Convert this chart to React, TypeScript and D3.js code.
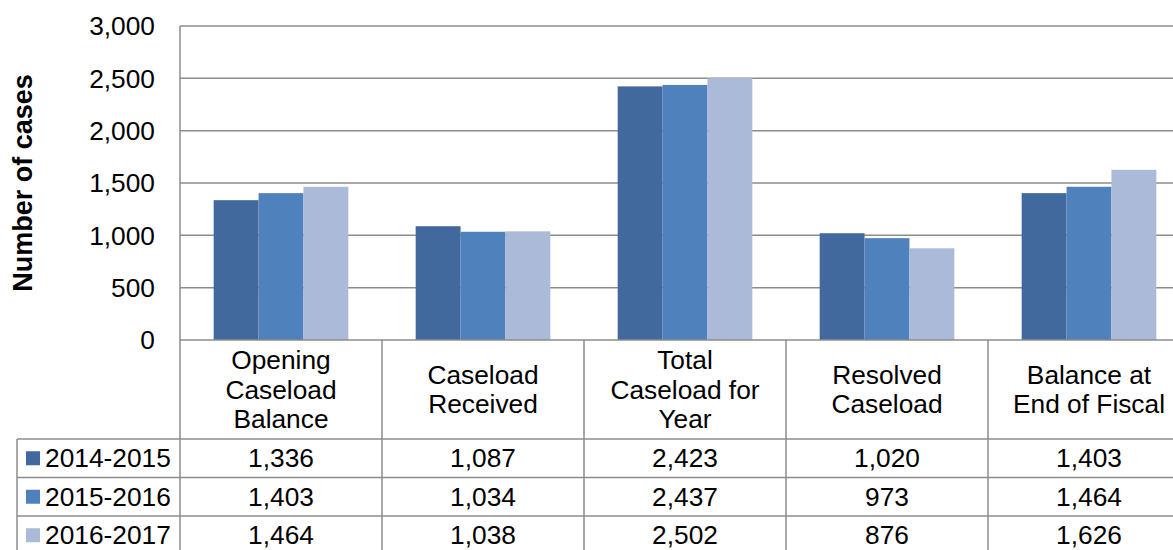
import React from 'react';
import * as d3 from 'd3';

// categories and series
const categories = [
  ['Opening', 'Caseload', 'Balance'],
  ['Caseload', 'Received'],
  ['Total', 'Caseload for', 'Year'],
  ['Resolved', 'Caseload'],
  ['Balance at', 'End of Fiscal'],
];
const seriesNames = ['2014-2015', '2015-2016', '2016-2017'];
const values2014 = [1336, 1087, 2423, 1020, 1403];
const values2015 = [1403, 1034, 2437, 973, 1464];
const values2016 = [1464, 1038, 2502, 876, 1626];
const yTicks = [0, 500, 1000, 1500, 2000, 2500, 3000];
const colors = ['#41699d', '#4f81bd', '#aabad8'];

const W = 1173;
const H = 550;
const FONT = '"Liberation Sans", Arial, sans-serif';
const FS = 26.3;

export default function App() {
  const series = [values2014, values2015, values2016];
  const fmt = d3.format(',');

  // plot area
  const left = 180;
  const colW = 202;
  const top = 26;
  const base = 340;
  const headerBottom = 439;
  const rowH = 38.5;
  const tableLeft = 17;

  const x0 = d3.scaleBand<number>()
    .domain(categories.map((_, i) => i))
    .range([left, left + colW * categories.length]);
  const x1 = d3.scaleBand<number>()
    .domain(seriesNames.map((_, i) => i))
    .range([0, x0.bandwidth()])
    .paddingInner(0)
    .paddingOuter(0.75);
  const y = d3.scaleLinear().domain([0, 3000]).range([base, top]);

  const grid = '#8c8c8c';

  return (
    <svg width={W} height={H} style={{ position: 'absolute', left: 0, top: 0 }} fontFamily={FONT}>
      <rect width={W} height={H} fill="#fff" />

      {/* gridlines */}
      {yTicks.filter(t => t > 0).map(t => (
        <line key={t} x1={left} x2={W} y1={y(t)} y2={y(t)} stroke={grid} strokeWidth={1.5} />
      ))}

      {/* bars */}
      {series.map((vals, s) =>
        vals.map((v, c) => (
          <rect key={`${s}-${c}`}
            x={(x0(c) as number) + (x1(s) as number)}
            y={y(v)}
            width={x1.bandwidth()}
            height={base - y(v)}
            fill={colors[s]} />
        ))
      )}

      {/* y tick labels */}
      {yTicks.map(t => (
        <text key={t} x={155} y={y(t)} dy="0.35em" textAnchor="end" fontSize={FS} fill="#000">
          {fmt(t)}
        </text>
      ))}

      {/* axis title */}
      <text transform={`translate(32,${(top + base) / 2}) rotate(-90)`} textAnchor="middle"
        fontSize={27} fontWeight="bold" fill="#000">Number of cases</text>

      {/* data table lines */}
      <line x1={left} x2={left} y1={top} y2={H} stroke={grid} strokeWidth={1.5} />
      <line x1={left} x2={W} y1={base} y2={base} stroke={grid} strokeWidth={1.5} />
      {seriesNames.map((_, r) => (
        <line key={r} x1={tableLeft} x2={W} y1={headerBottom + r * rowH} y2={headerBottom + r * rowH}
          stroke={grid} strokeWidth={1.5} />
      ))}
      <line x1={tableLeft} x2={tableLeft} y1={headerBottom} y2={H} stroke={grid} strokeWidth={1.5} />
      {categories.map((_, c) => c > 0 && (
        <line key={c} x1={x0(c)} x2={x0(c)} y1={base} y2={H} stroke={grid} strokeWidth={1.5} />
      ))}

      {/* category headers */}
      {categories.map((lines, c) => {
        const cx = (x0(c) as number) + x0.bandwidth() / 2;
        const lh = 29.5;
        const cy = (base + headerBottom) / 2;
        return (
          <text key={c} x={cx} textAnchor="middle" fontSize={FS} fill="#000">
            {lines.map((l, i) => (
              <tspan key={i} x={cx} y={cy + (i - (lines.length - 1) / 2) * lh} dy="0.35em">{l}</tspan>
            ))}
          </text>
        );
      })}

      {/* rows */}
      {series.map((vals, s) => {
        const cy = headerBottom + s * rowH + rowH / 2;
        return (
          <g key={s}>
            <rect x={26} y={cy - 7} width={14} height={14} fill={colors[s]} />
            <text x={45} y={cy} dy="0.35em" fontSize={FS} fill="#000">{seriesNames[s]}</text>
            {vals.map((v, c) => (
              <text key={c} x={(x0(c) as number) + x0.bandwidth() / 2} y={cy} dy="0.35em"
                textAnchor="middle" fontSize={FS} fill="#000">{fmt(v)}</text>
            ))}
          </g>
        );
      })}
    </svg>
  );
}
